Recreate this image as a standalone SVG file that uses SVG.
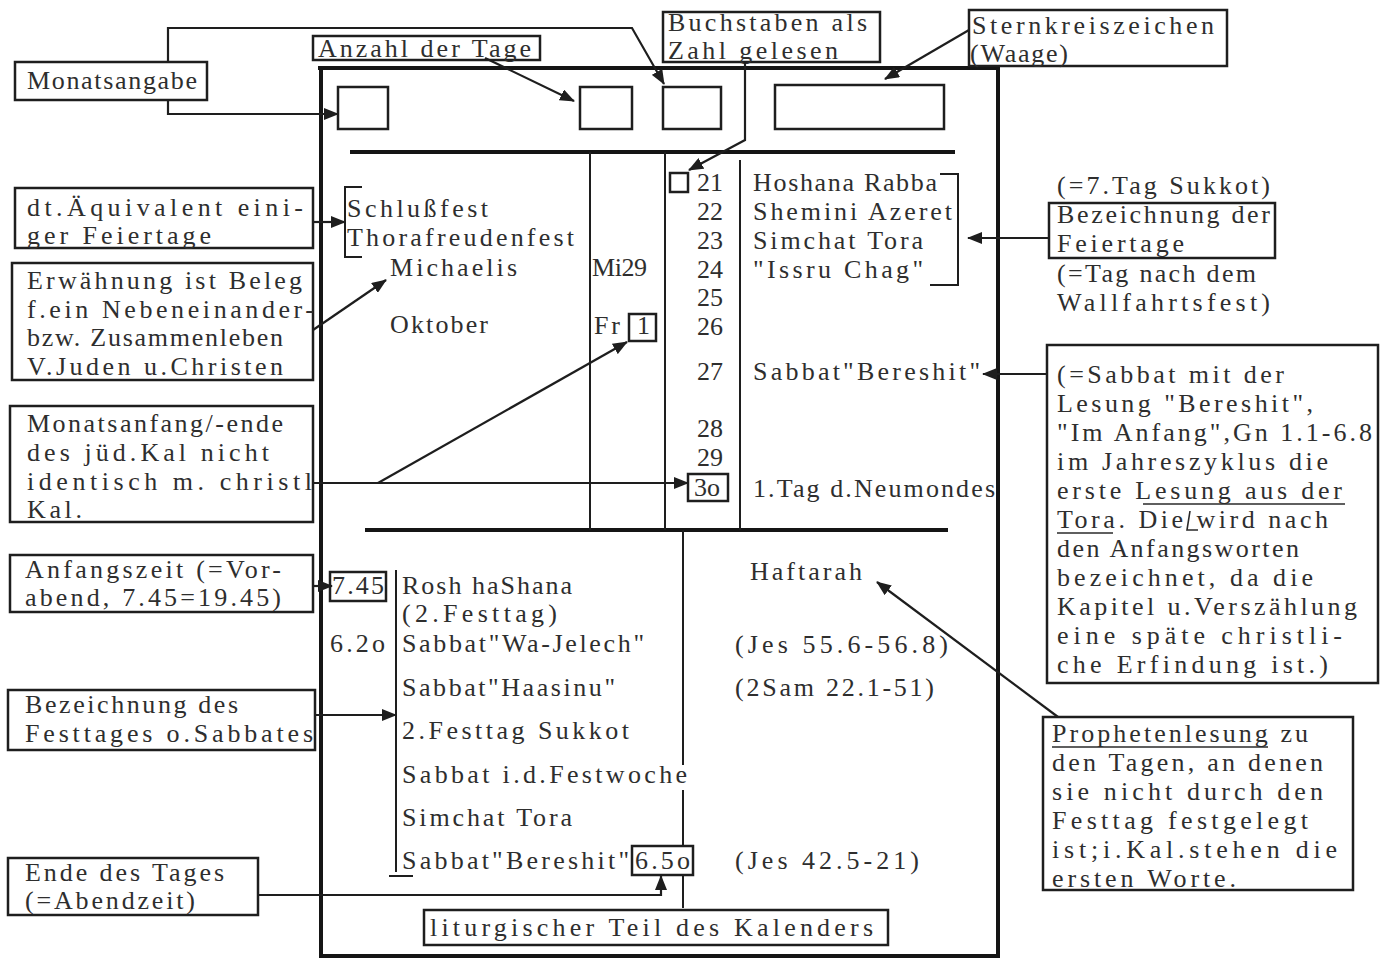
<svg xmlns="http://www.w3.org/2000/svg" width="1385" height="959" viewBox="0 0 1385 959">
<style>
text{font-family:"Liberation Serif","Times New Roman",serif;font-size:26px;fill:#2e2e2e}
.box{fill:none;stroke:#1e1e1e;stroke-width:2.5}
.thick{stroke:#151515;stroke-width:4;fill:none}
.line{stroke:#1e1e1e;stroke-width:2;fill:none}
.arr{stroke:#1e1e1e;stroke-width:2.2;fill:none;marker-end:url(#ah)}
.ul{stroke:#2a2a2a;stroke-width:1.6}
</style>
<defs>
<marker id="ah" markerUnits="userSpaceOnUse" markerWidth="16" markerHeight="12" refX="14" refY="6" orient="auto">
<path d="M0,0 L15,6 L0,12 Z" fill="#1e1e1e"/>
</marker>
</defs>
<rect width="1385" height="959" fill="#ffffff"/>

<g id="calendar-frame">
<path class="thick" d="M318,68 H998 V956 H321 V68"/>
<path class="thick" d="M350,152 H955"/>
<path class="thick" d="M365,530 H948"/>
<path class="line" d="M590,152 V530 M665,152 V530 M740,160 V530"/>
<path class="line" d="M683,530 V765 M683,790 V846 M683,876 V908"/>
</g>

<g id="top-boxes">
<rect class="box" x="338" y="87" width="50" height="42"/>
<rect class="box" x="580" y="87" width="52" height="42"/>
<rect class="box" x="663" y="87" width="58" height="42"/>
<rect class="box" x="775" y="85" width="169" height="44"/>
</g>

<g id="upper-left-column">
<path class="line" d="M362,187 H345 V257 H362"/>
<text x="347" y="217" textLength="141" lengthAdjust="spacing">Schlußfest</text>
<text x="347" y="246" textLength="227" lengthAdjust="spacing">Thorafreudenfest</text>
<text x="390" y="276" textLength="127" lengthAdjust="spacing">Michaelis</text>
<text x="390" y="333" textLength="98" lengthAdjust="spacing">Oktober</text>
</g>

<g id="christian-dates">
<text x="592" y="276" textLength="55" lengthAdjust="spacing">Mi29</text>
<text x="594" y="334" textLength="26" lengthAdjust="spacing">Fr</text>
<rect class="box" x="629" y="314" width="27" height="27"/>
<text x="637" y="334">1</text>
</g>

<g id="jewish-dates">
<rect class="box" x="670" y="173" width="18" height="19"/>
<text x="697" y="191" textLength="26" lengthAdjust="spacing">21</text>
<text x="697" y="220" textLength="26" lengthAdjust="spacing">22</text>
<text x="697" y="249" textLength="26" lengthAdjust="spacing">23</text>
<text x="697" y="278" textLength="26" lengthAdjust="spacing">24</text>
<text x="697" y="306" textLength="26" lengthAdjust="spacing">25</text>
<text x="697" y="335" textLength="26" lengthAdjust="spacing">26</text>
<text x="697" y="380" textLength="26" lengthAdjust="spacing">27</text>
<text x="697" y="437" textLength="26" lengthAdjust="spacing">28</text>
<text x="697" y="466" textLength="26" lengthAdjust="spacing">29</text>
<rect class="box" x="688" y="474" width="40" height="27"/>
<text x="694" y="496" textLength="26" lengthAdjust="spacing">3o</text>
</g>

<g id="feast-names">
<text x="753" y="191" textLength="184" lengthAdjust="spacing">Hoshana Rabba</text>
<text x="753" y="220" textLength="199" lengthAdjust="spacing">Shemini Azeret</text>
<text x="753" y="249" textLength="170" lengthAdjust="spacing">Simchat Tora</text>
<text x="753" y="278" textLength="170" lengthAdjust="spacing">"Issru Chag"</text>
<path class="line" d="M940,174 H958 V285 H930"/>
<text x="753" y="380" textLength="227" lengthAdjust="spacing">Sabbat"Bereshit"</text>
<text x="753" y="497" textLength="242" lengthAdjust="spacing">1.Tag d.Neumondes</text>
</g>

<g id="liturgical-part">
<rect class="box" x="330" y="572" width="56" height="29"/>
<text x="332" y="594" textLength="52" lengthAdjust="spacing">7.45</text>
<text x="330" y="652" textLength="55" lengthAdjust="spacing">6.2o</text>
<path class="line" d="M396,570 V872 M389,876 H413"/>
<text x="402" y="594" textLength="170" lengthAdjust="spacing">Rosh haShana</text>
<text x="402" y="622" textLength="155" lengthAdjust="spacing">(2.Festtag)</text>
<text x="402" y="652" textLength="242" lengthAdjust="spacing">Sabbat"Wa-Jelech"</text>
<text x="402" y="696" textLength="213" lengthAdjust="spacing">Sabbat"Haasinu"</text>
<text x="402" y="739" textLength="227" lengthAdjust="spacing">2.Festtag Sukkot</text>
<text x="402" y="783" textLength="285" lengthAdjust="spacing">Sabbat i.d.Festwoche</text>
<text x="402" y="826" textLength="170" lengthAdjust="spacing">Simchat Tora</text>
<text x="402" y="869" textLength="227" lengthAdjust="spacing">Sabbat"Bereshit"</text>
<rect class="box" x="632" y="846" width="61" height="29"/>
<text x="635" y="869" textLength="55" lengthAdjust="spacing">6.5o</text>
<text x="750" y="580" textLength="112" lengthAdjust="spacing">Haftarah</text>
<text x="735" y="653" textLength="213" lengthAdjust="spacing">(Jes 55.6-56.8)</text>
<text x="735" y="696" textLength="199" lengthAdjust="spacing">(2Sam 22.1-51)</text>
<text x="735" y="869" textLength="184" lengthAdjust="spacing">(Jes 42.5-21)</text>
</g>

<g id="label-monatsangabe">
<rect class="box" x="15" y="62" width="192" height="38"/>
<text x="27" y="89" textLength="170" lengthAdjust="spacing">Monatsangabe</text>
</g>

<g id="label-anzahl">
<rect class="box" x="313" y="36" width="227" height="24"/>
<text x="318" y="57" textLength="213" lengthAdjust="spacing">Anzahl der Tage</text>
</g>

<g id="label-buchstaben">
<rect class="box" x="663" y="12" width="217" height="50"/>
<text x="668" y="31" textLength="199" lengthAdjust="spacing">Buchstaben als</text>
<text x="668" y="59" textLength="170" lengthAdjust="spacing">Zahl gelesen</text>
</g>

<g id="label-sternkreis">
<rect class="box" x="969" y="10" width="258" height="56"/>
<text x="972" y="34" textLength="242" lengthAdjust="spacing">Sternkreiszeichen</text>
<text x="970" y="62" textLength="98" lengthAdjust="spacing">(Waage)</text>
</g>

<g id="label-aequivalent">
<rect class="box" x="15" y="188" width="298" height="60"/>
<text x="27" y="216" textLength="276" lengthAdjust="spacing">dt.Äquivalent eini-</text>
<text x="27" y="244" textLength="184" lengthAdjust="spacing">ger Feiertage</text>
</g>

<g id="label-erwaehnung">
<rect class="box" x="12" y="263" width="301" height="117"/>
<text x="27" y="289" textLength="275" lengthAdjust="spacing">Erwähnung ist Beleg</text>
<text x="27" y="318" textLength="287" lengthAdjust="spacing">f.ein Nebeneinander-</text>
<text x="27" y="346" textLength="256" lengthAdjust="spacing">bzw. Zusammenleben</text>
<text x="27" y="375" textLength="256" lengthAdjust="spacing">V.Juden u.Christen</text>
</g>

<g id="label-monatsanfang">
<rect class="box" x="10" y="406" width="303" height="116"/>
<text x="27" y="432" textLength="256" lengthAdjust="spacing">Monatsanfang/-ende</text>
<text x="27" y="461" textLength="242" lengthAdjust="spacing">des jüd.Kal nicht</text>
<text x="27" y="490" textLength="285" lengthAdjust="spacing">identisch m. christl</text>
<text x="27" y="518" textLength="55" lengthAdjust="spacing">Kal.</text>
</g>

<g id="label-anfangszeit">
<rect class="box" x="10" y="555" width="303" height="57"/>
<text x="25" y="578" textLength="256" lengthAdjust="spacing">Anfangszeit (=Vor-</text>
<text x="25" y="606" textLength="256" lengthAdjust="spacing">abend, 7.45=19.45)</text>
</g>

<g id="label-bezeichnung-festtag">
<rect class="box" x="8" y="690" width="307" height="60"/>
<text x="25" y="713" textLength="213" lengthAdjust="spacing">Bezeichnung des</text>
<text x="25" y="742" textLength="288" lengthAdjust="spacing">Festtages o.Sabbates</text>
</g>

<g id="label-ende">
<rect class="box" x="8" y="858" width="250" height="57"/>
<text x="25" y="881" textLength="199" lengthAdjust="spacing">Ende des Tages</text>
<text x="25" y="909" textLength="170" lengthAdjust="spacing">(=Abendzeit)</text>
</g>

<g id="label-liturgisch">
<rect class="box" x="424" y="910" width="464" height="35"/>
<text x="430" y="936" textLength="443" lengthAdjust="spacing">liturgischer Teil des Kalenders</text>
</g>

<g id="label-feiertage">
<text x="1057" y="194" textLength="213" lengthAdjust="spacing">(=7.Tag Sukkot)</text>
<rect class="box" x="1049" y="203" width="226" height="55"/>
<text x="1057" y="223" textLength="213" lengthAdjust="spacing">Bezeichnung der</text>
<text x="1057" y="252" textLength="127" lengthAdjust="spacing">Feiertage</text>
<text x="1057" y="282" textLength="199" lengthAdjust="spacing">(=Tag nach dem</text>
<text x="1057" y="311" textLength="213" lengthAdjust="spacing">Wallfahrtsfest)</text>
</g>

<g id="label-bereshit">
<rect class="box" x="1047" y="345" width="331" height="338"/>
<text x="1057" y="383" textLength="227" lengthAdjust="spacing">(=Sabbat mit der</text>
<text x="1057" y="412" textLength="256" lengthAdjust="spacing">Lesung "Bereshit",</text>
<text x="1057" y="441" textLength="315" lengthAdjust="spacing">"Im Anfang",Gn 1.1-6.8</text>
<text x="1057" y="470" textLength="271" lengthAdjust="spacing">im Jahreszyklus die</text>
<text x="1057" y="499" textLength="285" lengthAdjust="spacing">erste Lesung aus der</text>
<line class="ul" x1="1143" y1="504" x2="1345" y2="504"/>
<text x="1057" y="528" textLength="271" lengthAdjust="spacing">Tora. Die wird nach</text>
<line class="ul" x1="1057" y1="533" x2="1113" y2="533"/>
<path class="ul" fill="none" d="M1190,511 L1187,530 H1198"/>
<text x="1057" y="557" textLength="242" lengthAdjust="spacing">den Anfangsworten</text>
<text x="1057" y="586" textLength="256" lengthAdjust="spacing">bezeichnet, da die</text>
<text x="1057" y="615" textLength="300" lengthAdjust="spacing">Kapitel u.Verszählung</text>
<text x="1057" y="644" textLength="285" lengthAdjust="spacing">eine späte christli-</text>
<text x="1057" y="673" textLength="271" lengthAdjust="spacing">che Erfindung ist.)</text>
</g>

<g id="label-propheten">
<rect class="box" x="1043" y="717" width="310" height="173"/>
<text x="1052" y="742" textLength="256" lengthAdjust="spacing">Prophetenlesung zu</text>
<line class="ul" x1="1052" y1="747" x2="1268" y2="747"/>
<text x="1052" y="771" textLength="271" lengthAdjust="spacing">den Tagen, an denen</text>
<text x="1052" y="800" textLength="271" lengthAdjust="spacing">sie nicht durch den</text>
<text x="1052" y="829" textLength="256" lengthAdjust="spacing">Festtag festgelegt</text>
<text x="1052" y="858" textLength="285" lengthAdjust="spacing">ist;i.Kal.stehen die</text>
<text x="1052" y="887" textLength="184" lengthAdjust="spacing">ersten Worte.</text>
</g>

<g id="connectors">
<path class="arr" d="M168,100 V114 H338"/>
<path class="arr" d="M168,62 V28 H632 L664,84"/>
<path class="arr" d="M485,58 L574,101"/>
<path class="arr" d="M745,62 V140 L689,170"/>
<path class="arr" d="M969,30 L885,79"/>
<path class="arr" d="M313,222 H345"/>
<path class="arr" d="M313,330 L386,280"/>
<path class="arr" d="M313,483 H688"/>
<path class="arr" d="M378,483 L627,342"/>
<path class="arr" d="M313,586 H332"/>
<path class="arr" d="M315,715 H396"/>
<path class="arr" d="M258,895 H661 V876"/>
<path class="arr" d="M1049,238 H968"/>
<path class="arr" d="M1047,374 H983"/>
<path class="arr" d="M1058,717 L877,582"/>
</g>
</svg>
